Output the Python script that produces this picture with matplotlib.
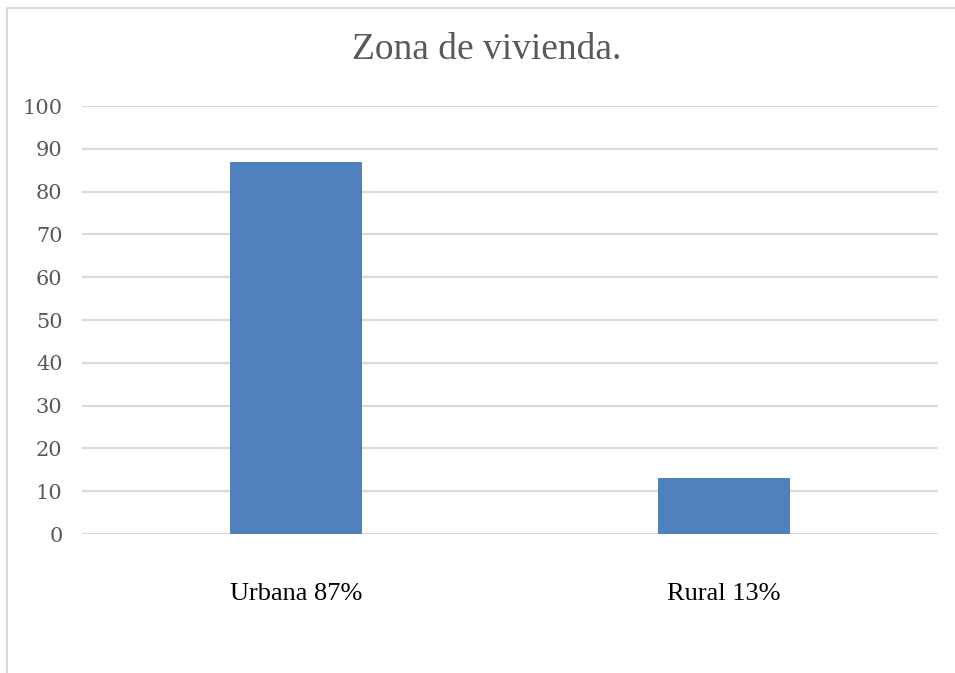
import matplotlib
matplotlib.use("Agg")
import matplotlib.pyplot as plt
from matplotlib.patches import Rectangle

categories = ["Urbana 87%", "Rural 13%"]
values = [87, 13]
yticks = [0, 10, 20, 30, 40, 50, 60, 70, 80, 90, 100]
title = "Zona de vivienda."

W, H = 955, 673
fig = plt.figure(figsize=(W / 100, H / 100), dpi=100)
fig.patch.set_facecolor("white")

# outer chart border (right/bottom cut off in reference)
fig.add_artist(Rectangle((7 / W, -0.05), 1.1, 1 - 8 / H + 0.05, transform=fig.transFigure,
                         fill=False, edgecolor="#D9D9D9", linewidth=1.5))

ax = fig.add_axes([82 / W, 1 - 534 / H, (938 - 82) / W, (534 - 106) / H])
x = list(range(len(categories)))
ax.bar(x, values, width=0.31, color="#4F81BD", zorder=3)
ax.set_xlim(-0.5, 1.5)
ax.set_ylim(0, 100)
ax.set_yticks(yticks)
ax.yaxis.grid(True, color="#D9D9D9", linewidth=1.5, zorder=0)
ax.set_axisbelow(True)
for s in ax.spines.values():
    s.set_visible(False)
ax.tick_params(axis="both", length=0)
ax.set_yticklabels([str(t) for t in yticks], family="DejaVu Serif", fontsize=15, color="#595959")
ax.tick_params(axis="y", pad=14)
ax.set_xticks(x)
ax.set_xticklabels(categories, family="Liberation Serif", fontsize=19, color="black")
ax.tick_params(axis="x", pad=35)

fig.text(487 / W, 1 - 50 / H, title, ha="center", va="center",
         family="Liberation Serif", fontsize=27, color="#595959")

fig.savefig("out.png", dpi=100)
